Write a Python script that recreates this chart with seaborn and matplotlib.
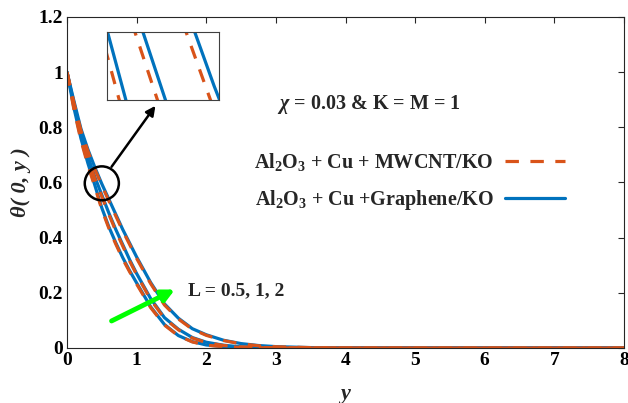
import matplotlib
matplotlib.use("Agg")
import matplotlib.pyplot as plt
from matplotlib.patches import Ellipse
from matplotlib.ticker import FuncFormatter
import pandas as pd
import seaborn as sns

# Temperature profiles theta(0, y) for three values of L
y_vals = [0, 0.1, 0.2, 0.3, 0.4, 0.5, 0.6, 0.7, 0.8, 0.9, 1.0, 1.2, 1.4, 1.6,
          1.8, 2.0, 2.25, 2.5, 2.75, 3.0, 3.5, 4.0, 5.0, 6.0, 7.0, 8.0]

graphene_L05 = [1.000, 0.870, 0.760, 0.670, 0.590, 0.508, 0.440, 0.382, 0.328, 0.280,
                0.236, 0.150, 0.085, 0.045, 0.023, 0.011, 0.005, 0.002, 0.001, 0.0005,
                0.0002, 0.0, 0.0, 0.0, 0.0, 0.0]
graphene_L1 = [1.000, 0.885, 0.780, 0.695, 0.620, 0.555, 0.490, 0.430, 0.375, 0.320,
               0.270, 0.180, 0.110, 0.068, 0.038, 0.021, 0.010, 0.004, 0.002, 0.001,
               0.0003, 0.0001, 0.0, 0.0, 0.0, 0.0]
graphene_L2 = [1.000, 0.895, 0.795, 0.720, 0.655, 0.595, 0.540, 0.485, 0.430, 0.380,
               0.330, 0.238, 0.160, 0.108, 0.070, 0.048, 0.028, 0.016, 0.009, 0.005,
               0.0015, 0.0005, 0.0001, 0.0, 0.0, 0.0]

mwcnt_L05 = [1.000, 0.864, 0.753, 0.663, 0.584, 0.502, 0.435, 0.377, 0.323, 0.276,
             0.232, 0.147, 0.083, 0.044, 0.022, 0.010, 0.005, 0.002, 0.001, 0.0004,
             0.0001, 0.0, 0.0, 0.0, 0.0, 0.0]
mwcnt_L1 = [1.000, 0.879, 0.774, 0.689, 0.614, 0.549, 0.485, 0.425, 0.370, 0.315,
            0.266, 0.176, 0.107, 0.066, 0.036, 0.020, 0.009, 0.004, 0.002, 0.001,
            0.0003, 0.0001, 0.0, 0.0, 0.0, 0.0]
mwcnt_L2 = [1.000, 0.889, 0.789, 0.714, 0.649, 0.589, 0.534, 0.479, 0.425, 0.375,
            0.325, 0.234, 0.156, 0.105, 0.068, 0.046, 0.027, 0.015, 0.008, 0.0045,
            0.0013, 0.0004, 0.0001, 0.0, 0.0, 0.0]

x_ticks = [0, 1, 2, 3, 4, 5, 6, 7, 8]
y_ticks = [0, 0.2, 0.4, 0.6, 0.8, 1.0, 1.2]

label_mwcnt = r"Al$_{2}$O$_{3}$ + Cu + MWCNT/KO"
label_graphene = r"Al$_{2}$O$_{3}$ + Cu +Graphene/KO"

BLUE = "#0072BD"
ORANGE = "#D95319"
DASH = (4.2, 3.6)

sns.set_style("white")
plt.rcParams["font.family"] = ["Liberation Serif", "DejaVu Serif"]
plt.rcParams["font.weight"] = "bold"
plt.rcParams["mathtext.fontset"] = "custom"
plt.rcParams["mathtext.rm"] = "Liberation Serif:bold"
plt.rcParams["mathtext.bf"] = "Liberation Serif:bold"
plt.rcParams["mathtext.it"] = "Liberation Serif:italic:bold"

graphene = pd.DataFrame({"y": y_vals * 3,
                         "theta": graphene_L05 + graphene_L1 + graphene_L2,
                         "L": ["0.5"] * len(y_vals) + ["1"] * len(y_vals) + ["2"] * len(y_vals)})
mwcnt = pd.DataFrame({"y": y_vals * 3,
                      "theta": mwcnt_L05 + mwcnt_L1 + mwcnt_L2,
                      "L": ["0.5"] * len(y_vals) + ["1"] * len(y_vals) + ["2"] * len(y_vals)})


def draw_profiles(ax, lw):
    g_lines, m_lines = [], []
    for L in ["0.5", "1", "2"]:
        sub = graphene[graphene["L"] == L]
        sns.lineplot(data=sub, x="y", y="theta", ax=ax, color=BLUE, lw=lw,
                     sort=False, estimator=None)
        g_lines.append(ax.lines[-1])
    for L in ["0.5", "1", "2"]:
        sub = mwcnt[mwcnt["L"] == L]
        sns.lineplot(data=sub, x="y", y="theta", ax=ax, color=ORANGE, lw=lw,
                     sort=False, estimator=None)
        line = ax.lines[-1]
        line.set_dashes(DASH)
        m_lines.append(line)
    return g_lines, m_lines


fig = plt.figure(figsize=(6.28, 4.03), dpi=100)
ax = fig.add_axes([67 / 628, 1 - 348 / 403, 557 / 628, 331 / 403])

g_lines, m_lines = draw_profiles(ax, 2.3)

ax.set_xlim(0, 8)
ax.set_ylim(0, 1.2)
ax.set_xticks(x_ticks)
ax.set_yticks(y_ticks)
ax.yaxis.set_major_formatter(FuncFormatter(lambda v, p: f"{v:g}"))
ax.tick_params(direction="in", length=4, width=0.8, top=True, right=True,
               labelsize=14, colors="#262626", labelcolor="black", pad=3)
for s in ax.spines.values():
    s.set_visible(True)
    s.set_color("#262626")
    s.set_linewidth(0.8)
for lab in ax.get_xticklabels() + ax.get_yticklabels():
    lab.set_fontweight("bold")

ax.set_xlabel("y", fontsize=16, fontstyle="italic", fontweight="bold", labelpad=11)
ax.set_ylabel("θ( 0, y )", fontsize=16, fontstyle="italic", fontweight="bold", labelpad=5)

# Legend: text first, line sample after
ax.legend([m_lines[0], g_lines[0]], [label_mwcnt, label_graphene],
          loc="upper left", bbox_to_anchor=(254 / 628, 1 - 151 / 403),
          bbox_transform=fig.transFigure, frameon=False, markerfirst=False,
          fontsize=14.5, handlelength=3.0, handletextpad=0.55, labelspacing=0.75,
          borderpad=0, borderaxespad=0)

ax.text(3.02, 0.883, r"$\chi$ = 0.03 & K = M = 1", fontsize=14.5,
        fontweight="bold", va="center", ha="left")

# Direction of increasing L
ax.annotate("", xy=(1.55, 0.212), xytext=(0.64, 0.098),
            arrowprops=dict(arrowstyle="-|>", color="#00FF00", lw=3.5,
                            mutation_scale=18, shrinkA=0, shrinkB=0))
ax.text(1.74, 0.207, "L = 0.5, 1, 2", fontsize=14, fontweight="bold",
        va="center", ha="left")

# Highlighted region and zoom arrow
ax.add_patch(Ellipse((0.50, 0.597), 0.49, 0.123, fill=False, ec="black", lw=1.8,
                     zorder=5))
ax.annotate("", xy=(1.27, 0.878), xytext=(0.64, 0.657),
            arrowprops=dict(arrowstyle="-|>", color="black", lw=1.8,
                            mutation_scale=14, shrinkA=0, shrinkB=0),
            annotation_clip=False, zorder=5)

# Magnified view
axin = fig.add_axes([106.7 / 628, 1 - 100 / 403, 112.6 / 628, 68.3 / 403])
draw_profiles(axin, 2.3)
axin.set_xlim(0.376, 0.506)
axin.set_ylim(0.5915, 0.6085)
axin.set_xticks([])
axin.set_yticks([])
axin.set_xlabel("")
axin.set_ylabel("")
for s in axin.spines.values():
    s.set_visible(True)
    s.set_color("#404040")
    s.set_linewidth(0.8)

fig.savefig("out.png", dpi=100)
